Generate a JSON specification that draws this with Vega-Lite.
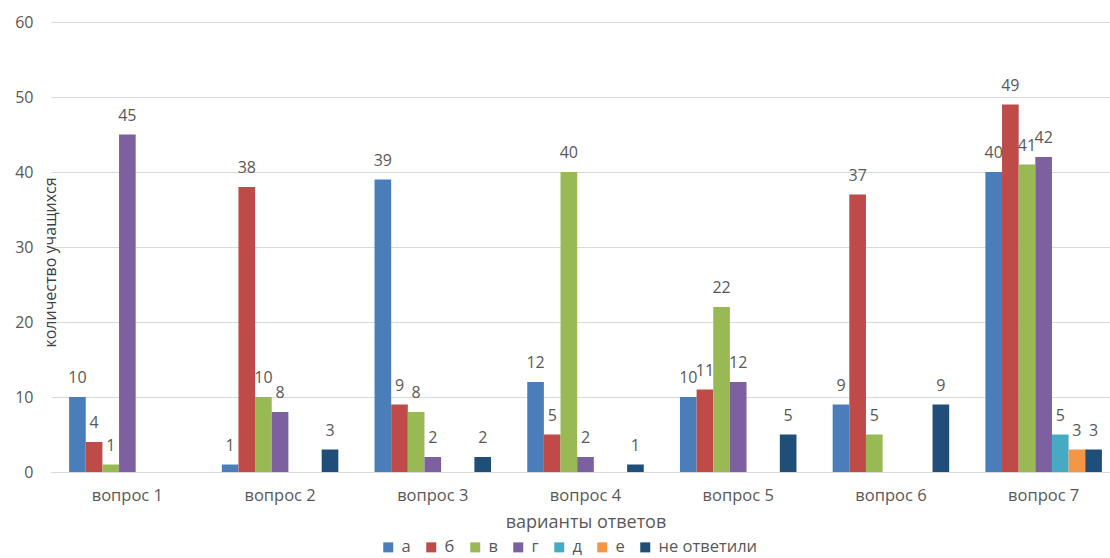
{
  "$schema": "https://vega.github.io/schema/vega-lite/v6.json",
  "width": 1059,
  "height": 450,
  "autosize": {"type": "none"},
  "padding": {"left": 51, "top": 22, "right": 0, "bottom": 86},
  "config": {
    "font": "Open Sans",
    "view": {"stroke": null},
    "axis": {"labelColor": "#595959", "titleColor": "#595959", "titleFontWeight": "normal", "labelFont": "Open Sans", "titleFont": "Open Sans"},
    "legend": {"labelColor": "#595959", "labelFont": "Open Sans"}
  },
  "data": {
    "values": [
      {"q": "вопрос 1", "s": "а", "v": 10},
      {"q": "вопрос 1", "s": "б", "v": 4},
      {"q": "вопрос 1", "s": "в", "v": 1},
      {"q": "вопрос 1", "s": "г", "v": 45},
      {"q": "вопрос 2", "s": "а", "v": 1},
      {"q": "вопрос 2", "s": "б", "v": 38},
      {"q": "вопрос 2", "s": "в", "v": 10},
      {"q": "вопрос 2", "s": "г", "v": 8},
      {"q": "вопрос 2", "s": "не ответили", "v": 3},
      {"q": "вопрос 3", "s": "а", "v": 39},
      {"q": "вопрос 3", "s": "б", "v": 9},
      {"q": "вопрос 3", "s": "в", "v": 8},
      {"q": "вопрос 3", "s": "г", "v": 2},
      {"q": "вопрос 3", "s": "не ответили", "v": 2},
      {"q": "вопрос 4", "s": "а", "v": 12},
      {"q": "вопрос 4", "s": "б", "v": 5},
      {"q": "вопрос 4", "s": "в", "v": 40},
      {"q": "вопрос 4", "s": "г", "v": 2},
      {"q": "вопрос 4", "s": "не ответили", "v": 1},
      {"q": "вопрос 5", "s": "а", "v": 10},
      {"q": "вопрос 5", "s": "б", "v": 11},
      {"q": "вопрос 5", "s": "в", "v": 22},
      {"q": "вопрос 5", "s": "г", "v": 12},
      {"q": "вопрос 5", "s": "не ответили", "v": 5},
      {"q": "вопрос 6", "s": "а", "v": 9},
      {"q": "вопрос 6", "s": "б", "v": 37},
      {"q": "вопрос 6", "s": "в", "v": 5},
      {"q": "вопрос 6", "s": "не ответили", "v": 9},
      {"q": "вопрос 7", "s": "а", "v": 40},
      {"q": "вопрос 7", "s": "б", "v": 49},
      {"q": "вопрос 7", "s": "в", "v": 41},
      {"q": "вопрос 7", "s": "г", "v": 42},
      {"q": "вопрос 7", "s": "д", "v": 5},
      {"q": "вопрос 7", "s": "е", "v": 3},
      {"q": "вопрос 7", "s": "не ответили", "v": 3}
    ]
  },
  "encoding": {
    "x": {
      "field": "q", "type": "nominal", "sort": null,
      "scale": {"range": [0, 1069], "paddingInner": 0.237, "paddingOuter": 0.1185},
      "axis": {
        "title": "варианты ответов", "titleFontSize": 18, "titlePadding": 10,
        "labelAngle": 0, "labelFontSize": 16.5, "labelPadding": 15,
        "ticks": false, "domainColor": "#d9d9d9", "domainWidth": 1
      }
    },
    "xOffset": {
      "field": "s", "type": "nominal",
      "scale": {"domain": ["а", "б", "в", "г", "д", "е", "не ответили"], "paddingInner": 0, "paddingOuter": 0}
    },
    "y": {
      "field": "v", "type": "quantitative",
      "scale": {"domain": [0, 60], "nice": false},
      "axis": {
        "values": [0, 10, 20, 30, 40, 50, 60],
        "title": "количество учащихся", "titleFontSize": 16, "titleColor": "#404040",
        "titleAngle": -90, "titleX": 4, "titleY": 240, "titleAlign": "center", "titleBaseline": "alphabetic",
        "labelFontSize": 16, "labelPadding": 18,
        "ticks": false, "domain": false,
        "gridColor": "#d9d9d9", "gridWidth": 1
      }
    }
  },
  "layer": [
    {
      "mark": {"type": "bar"},
      "encoding": {
        "color": {
          "field": "s", "type": "nominal",
          "scale": {
            "domain": ["а", "б", "в", "г", "д", "е", "не ответили"],
            "range": ["#4A7EBB", "#BE4B48", "#98B954", "#7D60A0", "#46AAC5", "#F59645", "#1F4E79"]
          },
          "legend": {
            "title": null, "orient": "none", "direction": "horizontal",
            "legendX": 329, "legendY": 517,
            "symbolType": "square", "symbolSize": 100, "symbolStrokeWidth": 0,
            "labelFontSize": 16.5, "labelOffset": 5, "columnPadding": 12
          }
        }
      }
    },
    {
      "mark": {"type": "text", "dy": -14, "baseline": "alphabetic", "align": "center", "fontSize": 16, "color": "#595959"},
      "encoding": {"text": {"field": "v", "type": "quantitative"}}
    }
  ]
}
